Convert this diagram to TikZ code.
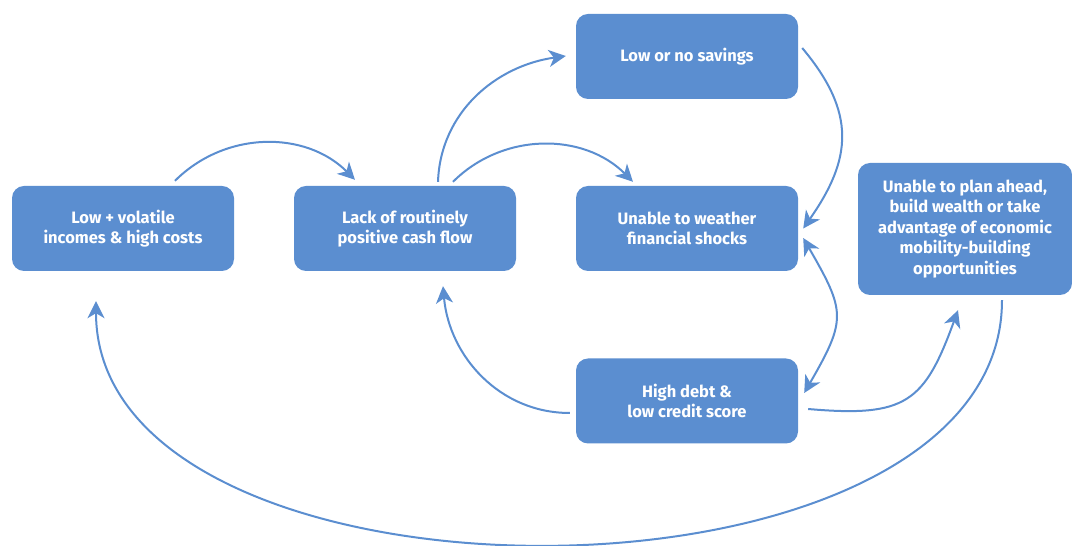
\documentclass[tikz,border=0pt]{standalone}
\usepackage{fontspec}
\setmainfont{Fira Sans}
\usepackage{xcolor}
\usetikzlibrary{arrows.meta}
\definecolor{boxblue}{RGB}{91,142,208}

\begin{document}
\begin{tikzpicture}[x=1pt, y=1pt,
  >={Stealth[length=17pt, width=17pt, inset=5pt]},
  box/.style={fill=boxblue, rounded corners=12pt, minimum width=222pt,
    minimum height=85pt, inner sep=0pt, text=white, align=center,
    font=\fontsize{16.5}{20.5}\selectfont\bfseries},
  link/.style={draw=boxblue, line width=2pt, ->}]
  \useasboundingbox (0,0) rectangle (1072,546);
  % Boxes
  \node[box] (low) at (123,317.5) {Low + volatile\\incomes \& high costs};
  \node[box] (lack) at (405,317.5) {Lack of routinely\\positive cash flow};
  \node[box] (savings) at (687,489.5) {Low or no savings};
  \node[box] (shocks) at (687,317.5) {Unable to weather\\financial shocks};
  \node[box] (debt) at (687,145) {High debt \&\\low credit score};
  \node[box, minimum width=214pt, minimum height=132pt] (plan) at (965,317)
    {Unable to plan ahead,\\build wealth or take\\advantage of economic\\mobility-building\\opportunities};
  % Top arrows
  \draw[link] ([xshift=52pt,yshift=5pt]low.north) to[out=45,in=135]
    ([xshift=-50pt,yshift=6pt]lack.north);
  \draw[link] ([xshift=33pt,yshift=4pt]lack.north) to[out=88,in=188]
    ([xshift=-10pt,yshift=0.5pt]savings.west);
  \draw[link] ([xshift=48pt,yshift=4pt]lack.north) to[out=45,in=135]
    ([xshift=-54pt,yshift=4pt]shocks.north);
  % Right side arrows
  \draw[link] ([xshift=4pt,yshift=8.5pt]savings.east) to[out=-50,in=55,looseness=1.2]
    ([xshift=5pt]shocks.east);
  \draw[link, <->] ([xshift=5pt,yshift=-9.5pt]shocks.east) to[out=-60,in=60,looseness=1.4]
    ([xshift=6pt,yshift=8pt]debt.east);
  % Bottom arrows
  \draw[link] ([xshift=-6pt,yshift=-12pt]debt.west) to[out=180,in=-85]
    ([xshift=38pt,yshift=-15pt]lack.south);
  \draw[link] ([xshift=10pt,yshift=-8pt]debt.east) to[out=-5,in=-110,looseness=1.4]
    ([xshift=-7pt,yshift=-15pt]plan.south);
  \draw[link] ([xshift=37pt,yshift=-5pt]plan.south) .. controls +(0,-325) and +(0,-325) ..
    ([xshift=-27pt,yshift=-30pt]low.south);
\end{tikzpicture}
\end{document}
